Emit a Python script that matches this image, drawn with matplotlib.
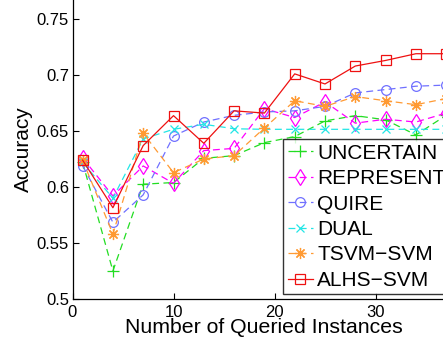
import matplotlib
matplotlib.use("Agg")
import matplotlib.pyplot as plt

plt.rcParams['font.family'] = ['Liberation Sans', 'DejaVu Sans']

queries = [1, 4, 7, 10, 13, 16, 19, 22, 25, 28, 31, 34, 37]

uncertain = [0.622, 0.525, 0.6025, 0.604, 0.6256, 0.628, 0.6396, 0.645, 0.659, 0.6637, 0.660, 0.6465, 0.664]
represent = [0.626, 0.592, 0.6188, 0.6033, 0.6325, 0.6345, 0.670, 0.662, 0.676, 0.657, 0.6605, 0.658, 0.666]
quire = [0.619, 0.5685, 0.593, 0.6455, 0.658, 0.664, 0.667, 0.668, 0.672, 0.684, 0.687, 0.690, 0.691]
dual = [0.622, 0.590, 0.643, 0.6515, 0.656, 0.652, 0.6515, 0.6515, 0.6515, 0.6515, 0.6515, 0.6515, 0.6515]
tsvm_svm = [0.624, 0.558, 0.648, 0.6128, 0.625, 0.628, 0.6527, 0.677, 0.672, 0.6807, 0.677, 0.6735, 0.679]
alhs_svm = [0.624, 0.5815, 0.637, 0.6637, 0.639, 0.668, 0.666, 0.701, 0.692, 0.708, 0.713, 0.719, 0.719]

names = ["UNCERTAIN", "REPRESENT", "QUIRE", "DUAL", "TSVM\u2212SVM", "ALHS\u2212SVM"]
x_ticks = [0, 10, 20, 30]
y_ticks = [0.5, 0.55, 0.6, 0.65, 0.7, 0.75]
y_tick_labels = ["0.5", "0.55", "0.6", "0.65", "0.7", "0.75"]

fig = plt.figure(figsize=(4.43, 3.5), dpi=100)
# axes run past the right and top edges of the canvas
ax = fig.add_axes([72.5 / 443, 51 / 350, 404 / 443, 336 / 350])

asterisk = (8, 2, 0)
styles = [
    dict(color="#22dd22", ls="--", marker="+", ms=8),
    dict(color="#ff00ff", ls="--", marker="d", ms=8),
    dict(color="#7070ff", ls="--", marker="o", ms=7),
    dict(color="#22e6e6", ls="--", marker="x", ms=6),
    dict(color="#ff9a33", ls="--", marker=asterisk, ms=8),
    dict(color="#ee1111", ls="-", marker="s", ms=7),
]
series = [uncertain, represent, quire, dual, tsvm_svm, alhs_svm]
for vals, name, st in zip(series, names, styles):
    line, = ax.plot(queries, vals, lw=0.9, mew=0.9, label=name, linestyle=st["ls"],
                    color=st["color"], marker=st["marker"], mfc="none", ms=st["ms"])
    if st["ls"] == "--":
        line.set_dashes((5.5, 3.5))

ax.set_xlim(0, 40)
ax.set_ylim(0.5, 0.8)
ax.set_xticks(x_ticks)
ax.set_yticks(y_ticks)
ax.set_yticklabels(y_tick_labels)
ax.tick_params(direction="in", labelsize=12, length=4, width=0.8)
ax.tick_params(axis="x", pad=4)
ax.tick_params(axis="y", pad=2.5)
for s in ax.spines.values():
    s.set_linewidth(0.9)

ax.set_xlabel("Number of Queried Instances", fontsize=15.3)
ax.set_ylabel("Accuracy", fontsize=15)
ax.xaxis.set_label_coords(0.474, -0.058)
ax.yaxis.set_label_coords(-0.098, 0.446)

leg = fig.legend(loc="upper left", bbox_to_anchor=(283 / 443, 1 - 139 / 350),
                 fontsize=15, handlelength=1.2, handletextpad=0.22,
                 labelspacing=0.31, borderpad=0.22, borderaxespad=0,
                 frameon=True, fancybox=False, edgecolor="black")
leg.get_frame().set_linewidth(1.0)

fig.savefig("out.png", dpi=100)
